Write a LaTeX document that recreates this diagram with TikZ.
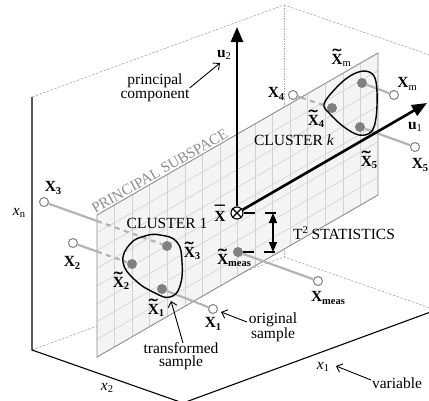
\documentclass[tikz,border=0pt]{standalone}
\usepackage{fontspec}
\setmainfont{Liberation Serif}
\usepackage{graphicx}
\usetikzlibrary{arrows.meta,calc}
\definecolor{planefill}{HTML}{F4F4F4}
\definecolor{gridc}{HTML}{D2D2D2}
\definecolor{planeedge}{HTML}{8C8C8C}
\definecolor{projc}{HTML}{B4B4B4}
\definecolor{edgec}{HTML}{A8A8A8}
\definecolor{dotc}{HTML}{808080}
\newcommand\subs[1]{\raisebox{-0.35ex}{\fontsize{10.5}{10}\selectfont #1}}
\newcommand\accX[3]{{\setbox0\hbox{\textbf{X}}\rlap{\hbox to\wd0{\hss\raisebox{#2}{\scalebox{#3}[1.15]{\textbf{#1}}}\hss}}\box0}}
\newcommand\TX{\accX{\char"02DC}{0.19em}{1.8}}
\newcommand\BX{\accX{\char"00AF}{0.17em}{1.3}}
\newcommand\BF{\textbf{X}}
\begin{document}
\begin{tikzpicture}[x=1pt,y=-1pt,
  lbl/.style={font=\fontsize{15.5}{13.5}\selectfont, inner sep=0pt, align=center},
  graytext/.style={font=\fontsize{15}{13}\selectfont, text=planeedge, inner sep=1.5pt},
  boxedge/.style={draw=edgec, line width=0.6pt, dash pattern=on 2.5pt off 1.5pt},
  backdot/.style={draw=edgec, line width=0.6pt, dash pattern=on 1.2pt off 1.3pt},
  axisline/.style={black, line width=1.1pt},
  gridline/.style={draw=gridc, line width=0.6pt},
  proj/.style={draw=projc, line width=2.2pt},
  projhid/.style={draw=projc, line width=2.2pt, dash pattern=on 5pt off 4.5pt},
  orig/.style={circle, draw=dotc, fill=white, line width=1pt, minimum size=9pt, inner sep=0pt},
  tdot/.style={circle, fill=dotc, minimum size=10pt, inner sep=0pt},
  blob/.style={draw=black, line width=1.4pt},
  bigarrow/.style={line width=2.6pt, -{Triangle[length=15pt,width=12pt]}},
  tarrow/.style={line width=1.3pt, {Triangle[length=10pt,width=8pt]}-{Triangle[length=10pt,width=8pt]}},
  tdash/.style={line width=1.2pt, dash pattern=on 11pt off 10pt},
  lblarrow/.style={line width=0.9pt, -{Straight Barb[length=5pt,width=9pt]}}
]
\useasboundingbox (0,0) rectangle (429,400);
% ---------- box ----------
\coordinate (A) at (32,350);
\coordinate (At) at (32,97);
\coordinate (B) at (183,403);
\coordinate (C) at (284,257);
\coordinate (Ct) at (284,5);
\coordinate (D) at (436,310);
\coordinate (Dt) at (436,57);
\begin{scope}
\clip (0,0) rectangle (429,400);
\draw[boxedge] (A) -- (C) -- (D);
\draw[boxedge] (At) -- (Ct) -- (Dt);
\draw[backdot] (C) -- (Ct);
\draw[axisline] (At) -- (A) -- (B) -- (D);
\end{scope}
% ---------- plane ----------
\coordinate (P1) at (97,215);
\coordinate (P2) at (378,53);
\coordinate (P3) at (378,195);
\coordinate (P4) at (97,357);
\fill[planefill] (P1) -- (P2) -- (P3) -- (P4) -- cycle;
\foreach \i in {1,...,15} {\draw[gridline] ($(P1)!\i/16!(P2)$) -- ($(P4)!\i/16!(P3)$);}
\foreach \j in {1,...,7} {\draw[gridline] ($(P1)!\j/8!(P4)$) -- ($(P2)!\j/8!(P3)$);}
\draw[draw=planeedge, line width=0.9pt] (P1) -- (P2) -- (P3) -- (P4) -- cycle;
\node[graytext, rotate=30, anchor=south] (ps) at ($(P1)!0.235!(P2)$) {PRINCIPAL SUBSPACE};
% ---------- samples ----------
\node[orig] (o1) at (213,309) {};
\node[orig] (o2) at (73,243) {};
\node[orig] (o3) at (44,202) {};
\node[orig] (o4) at (293,95) {};
\node[orig] (o5) at (415,147) {};
\node[orig] (om) at (394,95) {};
\node[orig] (ox) at (318,281) {};
\node[tdot] (t1) at (162,289) {};
\node[tdot] (t2) at (132,264) {};
\node[tdot] (t3) at (167,246) {};
\node[tdot] (t4) at (332,108) {};
\node[tdot] (t5) at (360,127) {};
\node[tdot] (tm) at (362,83) {};
\node[tdot] (tx) at (238,252) {};
\coordinate (c2) at (97,251.5);
\coordinate (c3) at (97,221);
\coordinate (c4) at (301,97.6);
\draw[proj] (o1) -- (t1);
\draw[proj] (o5) -- (t5);
\draw[proj] (om) -- (tm);
\draw[proj] (ox) -- (tx);
\draw[proj] (o2) -- (c2);
\draw[projhid] (c2) -- (t2);
\draw[proj] (o3) -- (c3);
\draw[projhid] (c3) -- (t3);
\draw[proj] (o4) -- (c4);
\draw[projhid] (c4) -- (t4);
% ---------- clusters ----------
\draw[blob] plot[smooth cycle, tension=0.75] coordinates {(145,236) (160,235) (177,242) (182,262) (180,286) (170,297) (155,293) (135,280) (123,262) (130,244)};
\draw[blob] plot[smooth cycle, tension=0.6] coordinates {(324,104) (336,88) (350,76) (364,71) (374,76) (377,92) (376,118) (371,132) (359,135) (344,127) (330,114)};
% ---------- principal axes ----------
\node[circle, draw=black, fill=white, line width=1.1pt, minimum size=12pt, inner sep=0pt] (xbar) at (237,213) {};
\draw[line width=1.1pt] (xbar.45) -- (xbar.225) (xbar.135) -- (xbar.315);
\coordinate (u2tip) at (237,27);
\coordinate (u1tip) at (427,103);
\draw[bigarrow] (xbar.north) -- (u2tip);
\draw[bigarrow] (xbar.30) -- (u1tip);
% ---------- T^2 ----------
\coordinate (h1) at (278,213);
\coordinate (h2) at (278,252);
\coordinate (v1) at (273,213);
\coordinate (v2) at (273,252);
\draw[tdash] (xbar) ++(7pt,0) -- (h1);
\draw[tdash] (tx.east) -- (h2);
\draw[tarrow] (v1) -- (v2);
\node[lbl] (tst) at (344,233) {T\raisebox{0.75ex}{\fontsize{10.5}{10}\selectfont 2} STATISTICS};
% ---------- labels ----------
\node[lbl] (l3) at (53,188) {\BF\subs{\textbf{3}}};
\node[lbl] (l2) at (72,263) {\BF\subs{\textbf{2}}};
\node[lbl] (l1) at (213,324) {\BF\subs{\textbf{1}}};
\node[lbl] (lx) at (328,298) {\BF\subs{\textbf{meas}}};
\node[lbl] (l4) at (276,94) {\BF\subs{\textbf{4}}};
\node[lbl] (lm) at (407,84) {\BF\subs{m}};
\node[lbl] (l5) at (420,165) {\BF\subs{\textbf{5}}};
\node[lbl] (k3) at (192,251) {\TX\subs{\textbf{3}}};
\node[lbl] (k2) at (121,281) {\TX\subs{\textbf{2}}};
\node[lbl] (k1) at (156,308) {\TX\subs{\textbf{1}}};
\node[lbl] (km) at (341,58) {\TX\subs{m}};
\node[lbl] (k4) at (316,119) {\TX\subs{\textbf{4}}};
\node[lbl] (k5) at (369,160) {\TX\subs{\textbf{5}}};
\node[lbl] (kx) at (234,258) {\TX\subs{\textbf{meas}}};
\node[lbl] (lbar) at (220,213) {\BX};
\node[lbl] (lu2) at (224,55) {\textbf{u}\subs{2}};
\node[lbl] (lu1) at (415,127) {\textbf{u}\subs{1}};
\node[lbl] (xn) at (19,213) {\textit{x}\subs{n}};
\node[lbl] (x2) at (107,388) {\textit{x}\subs{2}};
\node[lbl] (x1) at (323,367) {\textit{x}\subs{1}};
\node[lbl] (cl1) at (167,223) {CLUSTER 1};
\node[lbl] (clk) at (294,140) {CLUSTER \textit{k}};
\node[lbl] (pc) at (155,88) {principal\\component};
\node[lbl] (os) at (273,327) {original\\sample};
\node[lbl] (ts) at (181,356) {transformed\\sample};
\node[lbl] (var) at (397,383) {variable};
\coordinate (pcA) at (220,63);
\coordinate (osS) at (247,322);
\coordinate (osA) at (221,312);
\coordinate (tsS) at (183,343);
\coordinate (tsA) at (171,301);
\coordinate (varS) at (371,380);
\coordinate (varA) at (336,366);
\draw[lblarrow] (pc.east) -- (pcA);
\draw[lblarrow] (osS) -- (osA);
\draw[lblarrow] (tsS) -- (tsA);
\draw[lblarrow] (varS) -- (varA);
\end{tikzpicture}
\end{document}
